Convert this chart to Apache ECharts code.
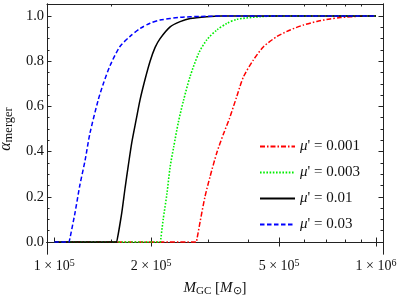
<!DOCTYPE html>
<html><head><meta charset="utf-8">
<script src="https://cdn.jsdelivr.net/npm/echarts@6/dist/echarts.min.js"></script>
<style>html,body{margin:0;padding:0;background:#fff}#c{width:399px;height:300px}</style>
</head><body><div id="c"></div>
<script>
// ---- data ----
const seriesNames = ["μ' = 0.001", "μ' = 0.003", "μ' = 0.01", "μ' = 0.03"];

const curveMu0001 = [[1e5,0],[2.765e5,0],[2.773e5,0],[2.84e5,0.09],[2.94e5,0.20],[3.05e5,0.29],[3.2e5,0.395],
  [3.36e5,0.48],[3.5e5,0.545],[3.69e5,0.643],[3.87e5,0.73],[4.16e5,0.806],[4.47e5,0.864],[4.92e5,0.909],
  [5.41e5,0.938],[5.95e5,0.96],[6.55e5,0.976],[7.2e5,0.987],[7.74e5,0.993],[8.94e5,0.999],[1e6,1]];

const curveMu0003 = [[1e5,0],[2.137e5,0],[2.143e5,0],[2.18e5,0.10],[2.24e5,0.215],[2.29e5,0.33],[2.35e5,0.42],
  [2.43e5,0.53],[2.52e5,0.625],[2.64e5,0.73],[2.81e5,0.835],[2.98e5,0.895],[3.2e5,0.938],[3.44e5,0.967],
  [3.69e5,0.985],[4.37e5,0.997],[5.2e5,1],[1e6,1]];

const curveMu001 = [[1e5,0],[1.564e5,0],[1.568e5,0],[1.621e5,0.13],[1.66e5,0.24],[1.699e5,0.34],[1.741e5,0.44],
  [1.796e5,0.54],[1.848e5,0.63],[1.915e5,0.72],[1.985e5,0.80],[2.056e5,0.86],[2.132e5,0.90],[2.291e5,0.952],
  [2.46e5,0.975],[2.644e5,0.989],[2.98e5,0.997],[3.3e5,1],[1e6,1]];

const curveMu003 = [[1e5,0],[1.112e5,0],[1.115e5,0],[1.16e5,0.13],[1.20e5,0.25],[1.246e5,0.36],[1.29e5,0.48],
  [1.37e5,0.63],[1.42e5,0.70],[1.49e5,0.78],[1.60e5,0.865],[1.72e5,0.91],[1.85e5,0.945],[1.985e5,0.968],
  [2.13e5,0.982],[2.46e5,0.994],[2.84e5,0.998],[3.5e5,1],[1e6,1]];

const xLabelTicks = [1e5, 2e5, 5e5, 1e6];
const xTopMajorTicks = [2e5, 5e5, 1e6];
const xMinorTicks = [1.5e5, 3e5, 4e5, 6e5, 7e5, 8e5, 9e5];
const yLabelTicks = [0, 0.2, 0.4, 0.6, 0.8, 1.0];
const yMinorTicks = [0.05, 0.1, 0.15, 0.25, 0.3, 0.35, 0.45, 0.5, 0.55, 0.65, 0.7, 0.75, 0.85, 0.9, 0.95];

// ---- layout / style ----
const X_MIN = 94900, X_MAX = 1051500;
const Y_MIN = -0.053, Y_MAX = 1.053;
const FONT = '"Liberation Serif", "Times New Roman", serif';
const FRAME = '#222';
const lg = Math.log10;

function xTickAxis(pos, values, len, withLabels) {
  const ax = {
    type: 'value', position: pos, min: lg(X_MIN), max: lg(X_MAX),
    axisLine: {show: true, lineStyle: {color: FRAME, width: 1}},
    splitLine: {show: false},
    axisTick: {show: true, inside: true, length: len, customValues: values.map(lg), lineStyle: {color: FRAME, width: 1}},
    axisLabel: {show: false}
  };
  if (withLabels) {
    ax.axisLabel = {
      show: true, customValues: values.map(lg), margin: 4,
      formatter: v => {
        const e = Math.floor(v + 1e-9);
        const m = Math.round(Math.pow(10, v - e));
        return '{n|' + m + ' × 10}{sup|' + e + '}';
      },
      rich: {
        n: {fontFamily: FONT, fontSize: 14, color: '#111', lineHeight: 16},
        sup: {fontFamily: FONT, fontSize: 10, color: '#111', lineHeight: 4, verticalAlign: 'top'}
      }
    };
  }
  return ax;
}
function yTickAxis(pos, values, len, withLabels) {
  const ax = {
    type: 'value', position: pos, min: Y_MIN, max: Y_MAX,
    axisLine: {show: true, lineStyle: {color: FRAME, width: 1}},
    splitLine: {show: false},
    axisTick: {show: true, inside: true, length: len, customValues: values, lineStyle: {color: FRAME, width: 1}},
    axisLabel: {show: false}
  };
  if (withLabels) {
    ax.axisLabel = {show: true, customValues: values, margin: 3, formatter: v => v.toFixed(1),
      fontFamily: FONT, fontSize: 14.5, color: '#111'};
  }
  return ax;
}

const yMain = yTickAxis('left', yLabelTicks, 4.5, true);
yMain.name = '{it|α}{sub|merger}';
yMain.nameLocation = 'middle';
yMain.nameRotate = 90;
yMain.nameGap = 32;
yMain.nameTextStyle = {
  align: 'center', verticalAlign: 'middle',
  rich: {
    it: {fontFamily: FONT, fontStyle: 'italic', fontSize: 16, color: '#111', lineHeight: 18},
    sub: {fontFamily: FONT, fontSize: 12.5, color: '#111', lineHeight: 8, verticalAlign: 'bottom'}
  }
};

const xData = {
  type: 'log', logBase: 10, position: 'bottom', min: X_MIN, max: X_MAX,
  axisLine: {show: true, lineStyle: {color: FRAME, width: 1}},
  axisTick: {show: false}, axisLabel: {show: false}, splitLine: {show: false}, minorTick: {show: false},
  name: '{it|M}{sub|GC}{n| [}{it|M}{sub|⊙}{n|]}', nameLocation: 'middle', nameGap: 25,
  nameTextStyle: {
    align: 'center',
    rich: {
      it: {fontFamily: FONT, fontStyle: 'italic', fontSize: 15, color: '#111', lineHeight: 18},
      sub: {fontFamily: FONT, fontSize: 11, color: '#111', lineHeight: 8, verticalAlign: 'bottom'},
      n: {fontFamily: FONT, fontSize: 15, color: '#111', lineHeight: 18}
    }
  }
};

const lineStyles = [
  {color: '#ff0000', width: 1.5, type: [5, 2, 1.5, 2]},
  {color: '#00ee00', width: 1.6, type: [1.6, 1.6]},
  {color: '#000000', width: 1.5, type: 'solid'},
  {color: '#0000ff', width: 1.5, type: [4.5, 2.5]}
];
const curves = [curveMu0001, curveMu0003, curveMu001, curveMu003];

const chart = echarts.init(document.getElementById('c'), null, {renderer: 'canvas'});
chart.setOption({
  animation: false,
  backgroundColor: '#fff',
  grid: {left: 47, right: 16, top: 4, bottom: 46, containLabel: false, outerBoundsMode: 'none'},
  xAxis: [
    xData,
    xTickAxis('bottom', xLabelTicks, 4.5, true),
    xTickAxis('bottom', xMinorTicks, 2.5, false),
    xTickAxis('top', xTopMajorTicks, 4.5, false),
    xTickAxis('top', xMinorTicks, 2.5, false)
  ],
  yAxis: [
    yMain,
    yTickAxis('left', yMinorTicks, 2.5, false),
    yTickAxis('right', yLabelTicks, 4.5, false),
    yTickAxis('right', yMinorTicks, 2.5, false)
  ],
  legend: {
    orient: 'vertical', left: 254, top: 134, itemWidth: 35, itemHeight: 14, itemGap: 11,
    data: seriesNames,
    itemStyle: {opacity: 0},
    formatter: n => '{it|μ}{n|' + n.slice(1) + '}',
    textStyle: {
      rich: {
        it: {fontFamily: FONT, fontStyle: 'italic', fontSize: 15, color: '#111'},
        n: {fontFamily: FONT, fontSize: 15, color: '#111'}
      }
    }
  },
  series: curves.map((d, i) => ({
    name: seriesNames[i], type: 'line', xAxisIndex: 0, yAxisIndex: 0,
    data: d, symbol: 'none', showSymbol: false, smooth: 0.25,
    lineStyle: lineStyles[i], itemStyle: {color: lineStyles[i].color, opacity: 0}, z: 2 + i
  }))
});
</script></body></html>
